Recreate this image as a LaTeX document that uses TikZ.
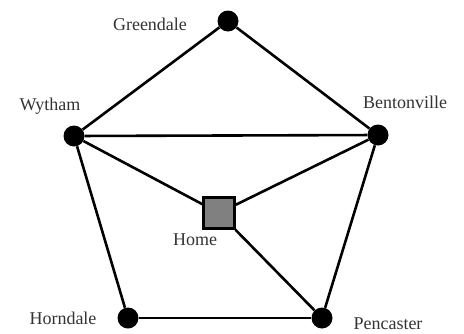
\documentclass[tikz,border=0pt]{standalone}
\usepackage{fontspec}
\setmainfont{Liberation Serif}
\usepackage{xcolor}
\usepackage{tikz}
\tikzset{town/.style={circle,fill=black,inner sep=0pt,minimum size=21pt},
  road/.style={line width=2.6pt},
  place/.style={text=black!80,font=\fontsize{18}{20}\selectfont}}

\begin{document}
\begin{tikzpicture}[x=1pt,y=-1pt]
  \useasboundingbox (0,0) rectangle (464,333);
    \node[town] at (228,21) (greendale){};
    \node[town] at (74,136) (wytham){};
    \node[town] at (378,135) (bentonville){};
    \node[town] at (128,318) (horndale){};
    \node[town] at (322,318) (pencaster){};
    \node[draw=black,line width=2.6pt,fill=black!50,minimum size=31pt,inner sep=0pt] at (219,213) (home){};
  \draw[road] (greendale) -- (wytham);
  \draw[road] (greendale) -- (bentonville);
  \draw[road] (wytham) -- (bentonville);
  \draw[road] (wytham) -- (horndale);
  \draw[road] (bentonville) -- (pencaster);
  \draw[road] (horndale) -- (pencaster);
  \draw[road] (wytham) -- (home);
  \draw[road] (bentonville) -- (home);
  \draw[road] (home) -- (pencaster);
\node[place] at (150,24) (greendale-l) {Greendale};
\node[place] at (50,106) (wytham-l) {Wytham};
\node[place] at (405,102) (bentonville-l) {Bentonville};
\node[place] at (195,240) (home-l) {Home};
\node[place] at (63,318) (horndale-l) {Horndale};
\node[place] at (388,324) (pencaster-l) {Pencaster};
\end{tikzpicture}
\end{document}
